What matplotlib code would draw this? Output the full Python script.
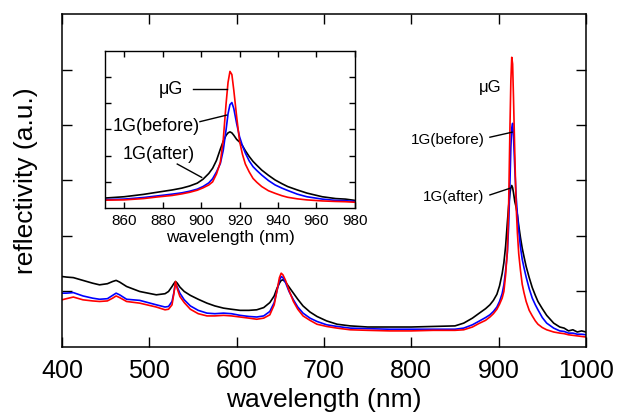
import matplotlib
matplotlib.use("Agg")
import matplotlib.pyplot as plt

plt.rcParams['font.family'] = ['Liberation Sans', 'DejaVu Sans']

wavelength = [400, 405, 413, 424, 435, 443, 452, 458, 462, 466, 474, 489, 508, 518, 522, 526, 528, 530, 532, 535,
              540, 547, 556, 566, 575, 585, 594, 604, 614, 623, 631, 638, 643, 646, 649, 651, 653, 656, 660, 665,
              670, 676, 684, 692, 703, 715, 730, 750, 775, 800, 825, 850, 860, 870, 877, 885, 890, 894, 898, 901,
              904, 906, 908, 910, 911.5, 913, 914, 915, 916, 917, 918.5, 920, 921.5, 923, 925, 927, 929, 931.5, 935, 938.5,
              942, 945, 950, 955, 963, 970, 975, 980, 985, 990, 995, 1000]

after_1g = [1.27, 1.26, 1.25, 1.20, 1.15, 1.12, 1.14, 1.18, 1.20, 1.17, 1.09, 1.00, 0.94, 0.96, 1.00, 1.09, 1.14, 1.18, 1.15, 1.08,
            1.00, 0.93, 0.86, 0.79, 0.74, 0.70, 0.68, 0.66, 0.66, 0.67, 0.71, 0.80, 0.92, 1.05, 1.15, 1.20, 1.21, 1.17, 1.08, 0.97,
            0.86, 0.74, 0.63, 0.55, 0.47, 0.41, 0.38, 0.36, 0.36, 0.36, 0.37, 0.38, 0.43, 0.52, 0.60, 0.69, 0.76, 0.84, 0.95, 1.10,
            1.32, 1.52, 1.82, 2.25, 2.55, 2.78, 2.87, 2.91, 2.87, 2.78, 2.62, 2.52, 2.38, 2.19, 1.97, 1.78, 1.63, 1.45, 1.25, 1.07,
            0.93, 0.82, 0.69, 0.57, 0.43, 0.36, 0.34, 0.29, 0.31, 0.27, 0.29, 0.27]

before_1g = [0.97, 0.97, 0.98, 0.92, 0.88, 0.86, 0.87, 0.93, 0.97, 0.94, 0.86, 0.84, 0.76, 0.72, 0.73, 0.82, 0.97, 1.15, 1.08, 0.97,
             0.85, 0.74, 0.66, 0.61, 0.60, 0.61, 0.60, 0.57, 0.55, 0.54, 0.56, 0.64, 0.80, 1.00, 1.20, 1.27, 1.25, 1.16, 1.00, 0.85,
             0.72, 0.61, 0.52, 0.46, 0.40, 0.37, 0.34, 0.33, 0.32, 0.32, 0.32, 0.32, 0.34, 0.40, 0.46, 0.53, 0.58, 0.64, 0.72, 0.82,
             0.96, 1.12, 1.38, 1.70, 2.20, 3.00, 3.60, 3.95, 4.03, 3.80, 3.22, 2.72, 2.38, 2.10, 1.80, 1.58, 1.43, 1.26, 1.05, 0.88,
             0.76, 0.67, 0.53, 0.43, 0.34, 0.29, 0.28, 0.25, 0.25, 0.23, 0.23, 0.22]

micro_g = [0.85, 0.87, 0.90, 0.85, 0.83, 0.82, 0.83, 0.88, 0.92, 0.89, 0.82, 0.79, 0.72, 0.67, 0.68, 0.76, 0.95, 1.18, 1.05, 0.91,
           0.80, 0.68, 0.60, 0.56, 0.56, 0.57, 0.56, 0.54, 0.52, 0.50, 0.52, 0.58, 0.76, 1.00, 1.25, 1.33, 1.30, 1.20, 1.02, 0.82,
           0.68, 0.56, 0.48, 0.41, 0.37, 0.34, 0.31, 0.30, 0.29, 0.29, 0.30, 0.30, 0.31, 0.36, 0.42, 0.48, 0.54, 0.60, 0.68, 0.77,
           0.88, 1.00, 1.30, 1.75, 2.60, 4.00, 4.80, 5.22, 5.10, 4.50, 3.48, 2.55, 2.05, 1.68, 1.38, 1.13, 0.98, 0.82, 0.66, 0.56,
           0.47, 0.41, 0.35, 0.31, 0.27, 0.25, 0.24, 0.22, 0.21, 0.20, 0.19, 0.18]

main_xticks = [400, 500, 600, 700, 800, 900, 1000]
inset_xticks = [860, 880, 900, 920, 940, 960, 980]
yticks = [1, 2, 3, 4, 5]

fig = plt.figure(figsize=(6.21, 4.17), dpi=100)
ax = fig.add_axes([0.0998, 0.1679, 0.8438, 0.7985])

lw = 1.2
ax.plot(wavelength, after_1g, color='black', lw=lw)
ax.plot(wavelength, before_1g, color='#0000ff', lw=lw)
ax.plot(wavelength, micro_g, color='#ff0000', lw=lw)
ax.set_xlim(400, 1000)
ax.set_ylim(0, 6)
ax.set_xticks(main_xticks)
ax.set_yticks(yticks)
ax.set_yticklabels([])
ax.tick_params(direction='in', length=7, width=1, top=True, right=True, labelsize=18, pad=9)
for s in ax.spines.values():
    s.set_linewidth(1.1)
ax.set_xlabel('wavelength (nm)', fontsize=19, labelpad=3)
ax.set_ylabel('reflectivity (a.u.)', fontsize=19, labelpad=8)

# main annotations
ax.text(903, 4.68, 'μG', ha='right', va='center', fontsize=12)
ax.text(884, 3.73, '1G(before)', ha='right', va='center', fontsize=11)
ax.plot([890, 915.3], [3.78, 3.87], color='black', lw=1)
ax.text(884, 2.70, '1G(after)', ha='right', va='center', fontsize=11)
ax.plot([890, 913], [2.74, 2.86], color='black', lw=1)

# inset
ins = fig.add_axes([0.169, 0.5012, 0.4026, 0.3765])
ins.plot(wavelength, after_1g, color='black', lw=lw)
ins.plot(wavelength, before_1g, color='#0000ff', lw=lw)
ins.plot(wavelength, micro_g, color='#ff0000', lw=lw)
ins.set_xlim(850, 980)
ins.set_ylim(0, 6)
ins.set_xticks(inset_xticks)
ins.set_yticks(yticks)
ins.set_yticklabels([])
ins.tick_params(direction='in', length=4, width=1, top=True, right=True, labelsize=11, pad=4)
for s in ins.spines.values():
    s.set_linewidth(1.0)
ins.set_xlabel('wavelength (nm)', fontsize=12.5, labelpad=2)

ins.text(890.6, 4.51, 'μG', ha='right', va='center', fontsize=13)
ins.plot([895.8, 913.3], [4.55, 4.55], color='black', lw=1)
ins.text(899.4, 3.13, '1G(before)', ha='right', va='center', fontsize=13)
ins.plot([899.4, 913.3], [3.30, 3.55], color='black', lw=1)
ins.text(878.1, 2.03, '1G(after)', ha='center', va='center', fontsize=13)
ins.plot([887.6, 900.3], [1.68, 1.17], color='black', lw=1)

fig.savefig('out.png', dpi=100)
